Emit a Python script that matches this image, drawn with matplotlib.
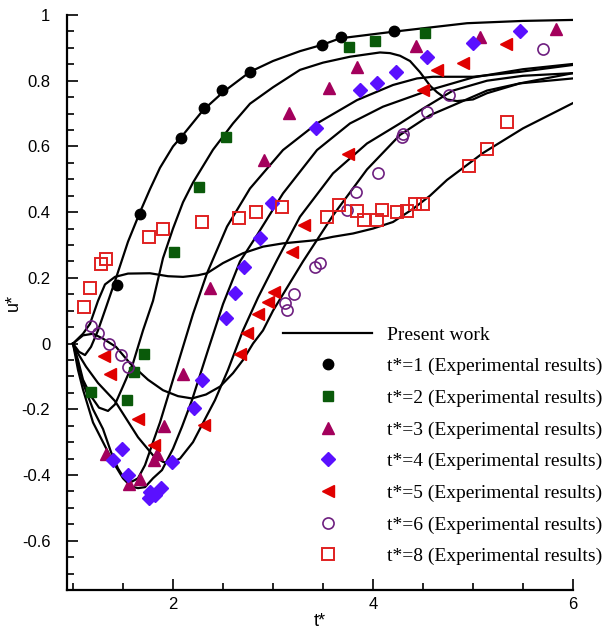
import matplotlib
matplotlib.use("Agg")
import matplotlib.pyplot as plt
from matplotlib.ticker import MultipleLocator, FormatStrFormatter
from matplotlib.lines import Line2D

plt.rcParams['axes.unicode_minus'] = False

#===============================================================
# present work (simulation curves)
#===============================================================
sim_t1_x = [1.0, 1.06, 1.12, 1.18, 1.25, 1.33, 1.42, 1.55, 1.67, 1.77, 1.87, 2.0, 2.1, 2.3,
            2.5, 2.77, 3.0, 3.27, 3.5, 3.67, 4.2, 4.94, 5.5, 6.0]
sim_t1_y = [0.0, -0.025, -0.035, -0.01, 0.04, 0.11, 0.19, 0.31, 0.40, 0.47, 0.535, 0.60, 0.635, 0.71,
            0.765, 0.827, 0.86, 0.89, 0.91, 0.929, 0.949, 0.975, 0.982, 0.985]

sim_t2_x = [1.0, 1.05, 1.1, 1.18, 1.26, 1.35, 1.42, 1.5, 1.6, 1.7, 1.8, 1.9, 2.0, 2.1, 2.2,
            2.4, 2.6, 2.77, 3.0, 3.27, 3.5, 3.77, 4.07, 4.17, 4.27, 4.37, 4.47, 4.57, 4.64,
            4.74, 4.84, 5.0, 5.14, 5.47, 6.0]
sim_t2_y = [0.0, -0.05, -0.11, -0.16, -0.195, -0.205, -0.185, -0.13, -0.06, 0.04, 0.13, 0.26, 0.35, 0.43, 0.49,
            0.59, 0.67, 0.73, 0.78, 0.833, 0.855, 0.873, 0.886, 0.884, 0.876, 0.86, 0.826, 0.785, 0.765,
            0.743, 0.738, 0.743, 0.762, 0.792, 0.823]

sim_t3_x = [1.0, 1.05, 1.1, 1.2, 1.3, 1.38, 1.45, 1.52, 1.59, 1.65, 1.72, 1.8, 1.87, 1.94, 2.02,
            2.09, 2.2, 2.34, 2.54, 2.77, 3.1, 3.44, 3.84, 4.2, 4.44, 4.6, 5.0, 5.47, 6.0]
sim_t3_y = [0.0, -0.06, -0.12, -0.2, -0.26, -0.33, -0.38, -0.414, -0.42, -0.41, -0.37, -0.3, -0.24, -0.17, -0.09,
            -0.02, 0.09, 0.214, 0.356, 0.472, 0.589, 0.67, 0.741, 0.787, 0.807, 0.812, 0.812, 0.827, 0.848]

sim_t4_x = [1.0, 1.05, 1.1, 1.2, 1.3, 1.4, 1.5, 1.58, 1.65, 1.72, 1.8, 1.89, 2.0, 2.09, 2.19,
            2.35, 2.5, 2.67, 2.84, 3.1, 3.44, 3.77, 4.1, 4.57, 5.0, 5.5, 6.0]
sim_t4_y = [0.0, -0.08, -0.14, -0.24, -0.3, -0.36, -0.41, -0.435, -0.44, -0.437, -0.41, -0.385, -0.32, -0.253, -0.172,
            -0.02, 0.12, 0.25, 0.33, 0.457, 0.589, 0.67, 0.721, 0.772, 0.81, 0.835, 0.851]

sim_t5_x = [1.0, 1.05, 1.13, 1.25, 1.42, 1.65, 1.8, 1.9, 1.97, 2.07, 2.2, 2.32, 2.42, 2.55, 2.7,
            2.85, 3.04, 3.27, 3.6, 3.94, 4.27, 4.5, 4.8, 5.14, 5.5, 6.0]
sim_t5_y = [0.0, -0.03, -0.07, -0.12, -0.175, -0.285, -0.34, -0.36, -0.365, -0.35, -0.3, -0.23, -0.172, -0.08, 0.04,
            0.14, 0.254, 0.386, 0.518, 0.609, 0.67, 0.715, 0.77, 0.80, 0.815, 0.823]

sim_t6_x = [1.0, 1.1, 1.2, 1.3, 1.43, 1.57, 1.75, 1.9, 2.05, 2.19, 2.33, 2.47, 2.6, 2.7, 2.8,
            2.9, 3.0, 3.3, 3.6, 3.94, 4.27, 4.57, 4.8, 5.14, 5.47, 6.0]
sim_t6_y = [0.0, 0.025, 0.03, 0.015, -0.01, -0.06, -0.11, -0.142, -0.16, -0.167, -0.155, -0.131, -0.09, -0.05, 0.0,
            0.04, 0.1, 0.25, 0.39, 0.53, 0.635, 0.695, 0.725, 0.77, 0.792, 0.807]

sim_t8_x = [1.0, 1.05, 1.1, 1.17, 1.25, 1.32, 1.42, 1.55, 1.77, 1.95, 2.1, 2.25, 2.34, 2.5, 2.7,
            2.9, 3.1, 3.44, 3.6, 3.8, 4.0, 4.2, 4.4, 4.57, 4.74, 5.1, 5.5, 6.0]
sim_t8_y = [0.0, 0.015, 0.03, 0.06, 0.13, 0.18, 0.203, 0.213, 0.214, 0.205, 0.203, 0.208, 0.214, 0.245, 0.275,
            0.295, 0.305, 0.315, 0.325, 0.335, 0.35, 0.37, 0.41, 0.45, 0.498, 0.58, 0.655, 0.732]

#===============================================================
# experimental results
#===============================================================
exp_t1_x = [1.44, 1.67, 2.08, 2.31, 2.49, 2.77, 3.49, 3.68, 4.21]
exp_t1_y = [0.177, 0.393, 0.627, 0.716, 0.771, 0.827, 0.910, 0.932, 0.950]

exp_t2_x = [1.18, 1.54, 1.61, 1.71, 2.01, 2.26, 2.53, 3.76, 4.02, 4.52]
exp_t2_y = [-0.147, -0.172, -0.088, -0.032, 0.278, 0.477, 0.628, 0.904, 0.921, 0.946]

exp_t3_x = [1.33, 1.56, 1.67, 1.81, 1.84, 1.91, 2.10, 2.37, 2.91, 3.16, 3.56, 3.84, 4.43, 5.07, 5.83]
exp_t3_y = [-0.335, -0.426, -0.413, -0.355, -0.336, -0.252, -0.092, 0.168, 0.559, 0.703, 0.777, 0.841, 0.906, 0.934, 0.956]

exp_t4_x = [1.40, 1.49, 1.55, 1.76, 1.77, 1.82, 1.88, 1.99, 2.21, 2.29, 2.53, 2.62, 2.71, 2.87, 2.99,
            3.43, 3.87, 4.04, 4.23, 4.54, 5.0, 5.47]
exp_t4_y = [-0.353, -0.322, -0.40, -0.471, -0.451, -0.461, -0.441, -0.36, -0.195, -0.111, 0.077, 0.153, 0.234, 0.32, 0.429,
            0.655, 0.772, 0.794, 0.828, 0.873, 0.914, 0.952]

exp_t5_x = [1.31, 1.37, 1.65, 1.81, 2.31, 2.67, 2.74, 2.85, 2.95, 3.01, 3.19, 3.31, 3.75, 4.50, 4.64, 4.90, 5.33]
exp_t5_y = [-0.037, -0.093, -0.23, -0.309, -0.248, -0.032, 0.031, 0.09, 0.127, 0.158, 0.279, 0.362, 0.578, 0.773, 0.834, 0.853, 0.913]

exp_t6_x = [1.18, 1.25, 1.36, 1.48, 1.55, 3.12, 3.14, 3.21, 3.42, 3.47, 3.74, 3.83, 4.05, 4.29, 4.30, 4.54, 4.76, 5.70]
exp_t6_y = [0.053, 0.031, 0.0, -0.035, -0.071, 0.122, 0.102, 0.151, 0.234, 0.244, 0.406, 0.462, 0.52, 0.628, 0.638, 0.706, 0.756, 0.896]

exp_t8_x = [1.11, 1.17, 1.28, 1.33, 1.76, 1.90, 2.29, 2.66, 2.83, 3.09, 3.54, 3.66, 3.84, 3.91, 4.04,
            4.09, 4.24, 4.34, 4.42, 4.50, 4.96, 5.14, 5.34]
exp_t8_y = [0.112, 0.168, 0.242, 0.256, 0.324, 0.348, 0.369, 0.381, 0.399, 0.416, 0.384, 0.422, 0.404, 0.376, 0.376,
            0.406, 0.401, 0.404, 0.425, 0.425, 0.540, 0.593, 0.674]

legend_labels = ["t*=1 (Experimental results)", "t*=2 (Experimental results)",
                 "t*=3 (Experimental results)", "t*=4 (Experimental results)",
                 "t*=5 (Experimental results)", "t*=6 (Experimental results)",
                 "t*=8 (Experimental results)"]

#===============================================================
# plot
#===============================================================
fig = plt.figure(figsize=(6.14, 6.31), dpi=100)
ax = fig.add_axes([67/614, 1-590/631, (573-67)/614, (590-15)/631])

simX = [sim_t1_x, sim_t2_x, sim_t3_x, sim_t4_x, sim_t5_x, sim_t6_x, sim_t8_x]
simY = [sim_t1_y, sim_t2_y, sim_t3_y, sim_t4_y, sim_t5_y, sim_t6_y, sim_t8_y]
for i in range(len(simX)):
    ax.plot(simX[i], simY[i], color="black", lw=1.6, zorder=2)

expX = [exp_t1_x, exp_t2_x, exp_t3_x, exp_t4_x, exp_t5_x, exp_t6_x, exp_t8_x]
expY = [exp_t1_y, exp_t2_y, exp_t3_y, exp_t4_y, exp_t5_y, exp_t6_y, exp_t8_y]
styles = [
    dict(marker="o", ms=7.5, mfc="black", mec="black"),
    dict(marker="s", ms=7, mfc="#0a5a0a", mec="#0a5a0a"),
    dict(marker="^", ms=8, mfc="#a3005c", mec="#a3005c"),
    dict(marker="D", ms=7.5, mfc="#5a10ff", mec="#5a10ff"),
    dict(marker="<", ms=8, mfc="#e00000", mec="#e00000"),
    dict(marker="o", ms=8, mfc="none", mec="#6e1f80", mew=1.2),
    dict(marker="s", ms=8, mfc="none", mec="#e02020", mew=1.4),
]
for i in range(len(expX)):
    ax.plot(expX[i], expY[i], ls="none", zorder=3, **styles[i])

ax.set_xlim(0.94, 6)
ax.set_ylim(-0.75, 1)
ax.spines["top"].set_visible(False)
ax.spines["right"].set_visible(False)
ax.spines["left"].set_linewidth(1.6)
ax.spines["bottom"].set_linewidth(1.6)

ax.xaxis.set_major_locator(MultipleLocator(2))
ax.xaxis.set_minor_locator(MultipleLocator(0.5))
ax.yaxis.set_major_locator(MultipleLocator(0.2))
ax.yaxis.set_minor_locator(MultipleLocator(0.05))
ax.yaxis.set_major_formatter(FormatStrFormatter("%g"))
ax.tick_params(which="both", direction="in", width=1.2)
ax.tick_params(which="major", length=8)
ax.tick_params(which="minor", length=5)
ax.tick_params(axis="y", which="major", pad=12)
ax.tick_params(axis="x", which="major", pad=5)
for lab in ax.get_xticklabels() + ax.get_yticklabels():
    lab.set_fontfamily("Liberation Sans")
    lab.set_fontsize(12)

ax.set_xlabel("t*", fontfamily="Liberation Sans", fontsize=13)
ax.set_ylabel("u*", fontfamily="Liberation Sans", fontsize=13)
ax.xaxis.set_label_coords(0.5, -(621-590)/575)
ax.yaxis.set_label_coords(-(67-13)/506, 0.5)
ax.xaxis.label.set_va("center")
ax.yaxis.label.set_va("center")

handles = [Line2D([], [], color="black", lw=1.6)]
for i in range(len(styles)):
    handles.append(Line2D([], [], ls="none", **styles[i]))
leg = ax.legend(handles, ["Present work"] + legend_labels,
                loc="upper left", bbox_to_anchor=(283/614, 1-326/631),
                bbox_transform=fig.transFigure, frameon=False,
                borderpad=0, borderaxespad=0, numpoints=1,
                handlelength=4.58, handletextpad=0.77, labelspacing=0.72,
                prop={"family": "Liberation Serif", "size": 14})

fig.savefig("out.png", dpi=100)
